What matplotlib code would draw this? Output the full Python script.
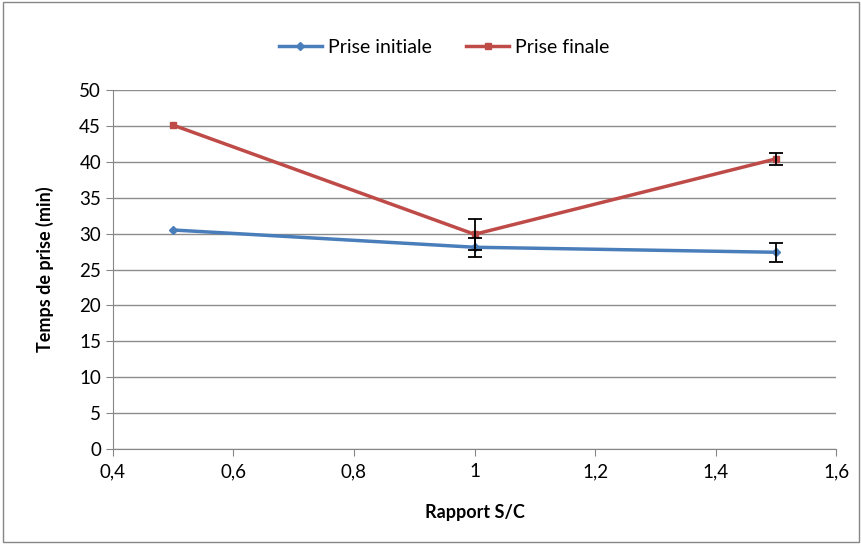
import matplotlib
matplotlib.use("Agg")
import matplotlib.pyplot as plt
from matplotlib.patches import Rectangle
from matplotlib.ticker import FuncFormatter

plt.rcParams['font.family'] = ['Lato', 'DejaVu Sans']

# data
ratio = [0.5, 1.0, 1.5]
prise_initiale = [30.5, 28.1, 27.4]
prise_finale = [45.1, 29.9, 40.4]
err_initiale = [0, 1.3, 1.3]
err_finale = [0, 2.2, 0.8]

xticks = [0.4, 0.6, 0.8, 1.0, 1.2, 1.4, 1.6]
yticks = list(range(0, 55, 5))

blue = '#4a7ebb'
red = '#be4b48'

fig = plt.figure(figsize=(8.62, 5.45), dpi=100)
fig.patches.append(Rectangle((0.004, 0.006), 0.992, 0.99, transform=fig.transFigure,
                             fill=False, edgecolor='#868686', linewidth=1))
ax = fig.add_axes([0.131, 0.176, 0.839, 0.659])

ax.plot(ratio, prise_initiale, color=blue, linewidth=2.5, marker='D', markersize=4,
        label='Prise initiale', zorder=3)
ax.plot(ratio, prise_finale, color=red, linewidth=2.5, marker='s', markersize=5,
        label='Prise finale', zorder=3)
ax.errorbar(ratio[1:], prise_initiale[1:], yerr=err_initiale[1:], fmt='none',
            ecolor='black', elinewidth=1.3, capsize=5, capthick=1.3, zorder=4)
ax.errorbar(ratio[1:], prise_finale[1:], yerr=err_finale[1:], fmt='none',
            ecolor='black', elinewidth=1.3, capsize=5, capthick=1.3, zorder=4)

ax.set_xlim(0.4, 1.6)
ax.set_ylim(0, 50)
ax.set_xticks(xticks)
ax.set_yticks(yticks)
ax.xaxis.set_major_formatter(FuncFormatter(lambda v, p: ('%g' % round(v, 1)).replace('.', ',')))
ax.grid(axis='y', color='#8c8c8c', linewidth=1)
ax.set_axisbelow(True)
for side in ['top', 'right']:
    ax.spines[side].set_visible(False)
for side in ['left', 'bottom']:
    ax.spines[side].set_color('#868686')
ax.tick_params(axis='both', labelsize=13.5, color='#868686', direction='out', length=5)
ax.tick_params(axis='x', pad=5)

ax.set_xlabel('Rapport S/C', fontsize=13, fontweight='bold', labelpad=17)
ax.set_ylabel('Temps de prise (min)', fontsize=13, fontweight='bold', labelpad=18)

ax.legend(loc='lower center', bbox_to_anchor=(0.458, 1.045), ncol=2, frameon=False,
          fontsize=14, handlelength=2.2, handletextpad=0.3, columnspacing=1.8)

fig.savefig('out.png', dpi=100)
